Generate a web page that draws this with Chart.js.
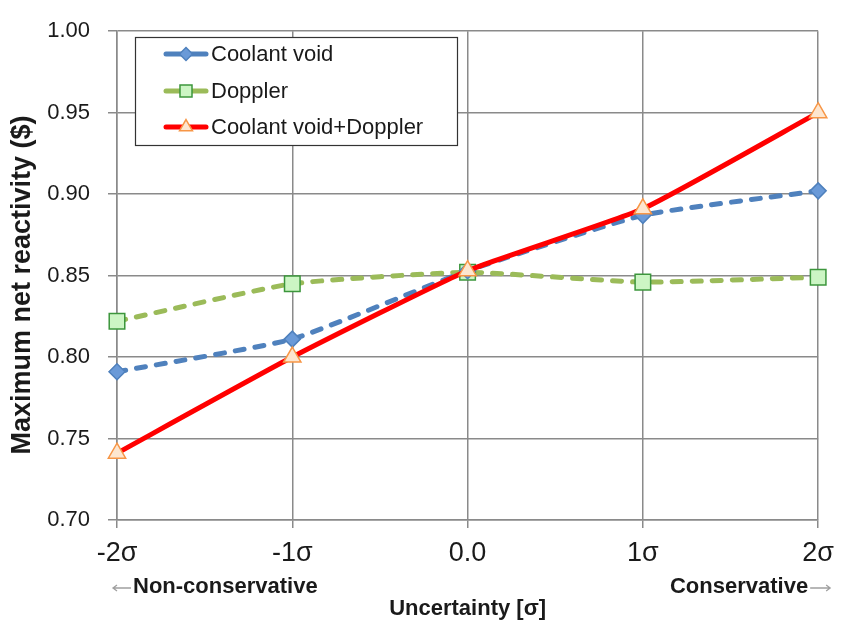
<!DOCTYPE html>
<html>
<head>
<meta charset="utf-8">
<script src="https://cdn.jsdelivr.net/npm/chart.js@4.4.1/dist/chart.umd.min.js"></script>
<style>
  html, body { margin: 0; padding: 0; background: #ffffff; }
  #wrap { width: 843px; height: 630px; position: relative; }
</style>
</head>
<body>
<div id="wrap"><canvas id="c" width="843" height="630"></canvas></div>
<script>
// Uncertainty levels on the x axis
const categories = ['-2σ', '-1σ', '0.0', '1σ', '2σ'];

// Maximum net reactivity ($) for each perturbed feedback
const coolantVoid = [0.791, 0.811, 0.853, 0.887, 0.902];
const doppler = [0.822, 0.845, 0.852, 0.846, 0.849];
const coolantVoidDoppler = [0.741, 0.800, 0.853, 0.891, 0.950];

const seriesNames = ['Coolant void', 'Doppler', 'Coolant void+Doppler'];

// y axis range and tick step
const yMin = 0.70, yMax = 1.00, yStep = 0.05;

const FONT = '"Liberation Sans", Arial, Helvetica, sans-serif';
const GRID = '#8a8a8a';
const INK = '#1a1a1a';

const styles = [
  { line: '#4f81bd', fill: '#6a9ad8', edge: '#4f81bd', point: 'rectRot', radius: 8, dash: [9, 11] },
  { line: '#9bbb59', fill: '#ccf5c4', edge: '#3c963c', point: 'rect', radius: 11, dash: [9, 11] },
  { line: '#ff0000', fill: '#fde6cf', edge: '#f79646', point: 'triangle', radius: 10, dash: [] }
];

function makeSet(label, data, s, order) {
  return {
    label: label,
    data: data,
    order: order,
    borderColor: s.line,
    borderWidth: 5,
    borderDash: s.dash,
    borderCapStyle: s.dash.length ? 'round' : 'butt',
    borderJoinStyle: 'round',
    tension: 0.15,
    pointStyle: s.point,
    pointRadius: s.radius,
    pointHoverRadius: s.radius,
    pointBackgroundColor: s.fill,
    pointBorderColor: s.edge,
    pointBorderWidth: 1.5,
    fill: false
  };
}

// Boxed legend drawn in the upper-left of the plot
const boxLegend = {
  id: 'boxLegend',
  afterDatasetsDraw(chart) {
    const ctx = chart.ctx;
    const x0 = 135, y0 = 37, w = 322, h = 108;
    ctx.save();
    ctx.fillStyle = '#ffffff';
    ctx.fillRect(x0, y0, w, h);
    ctx.strokeStyle = '#333333';
    ctx.lineWidth = 1.2;
    ctx.strokeRect(x0 + 0.5, y0 + 0.5, w, h);
    const rows = [54, 91, 127];
    const legendRadius = [6.5, 8.5, 7.5];
    chart.data.datasets.forEach((ds, i) => {
      const y = rows[i];
      const s = styles[i];
      ctx.beginPath();
      ctx.setLineDash([]);
      ctx.lineCap = 'round';
      ctx.strokeStyle = s.line;
      ctx.lineWidth = 5;
      ctx.moveTo(166, y);
      ctx.lineTo(206, y);
      ctx.stroke();
      ctx.fillStyle = s.fill;
      ctx.strokeStyle = s.edge;
      ctx.lineWidth = 1.5;
      Chart.helpers.drawPoint(ctx, {
        pointStyle: s.point, radius: legendRadius[i], rotation: 0, borderWidth: 1.5
      }, 186, y);
      ctx.fillStyle = INK;
      ctx.font = '22px ' + FONT;
      ctx.textBaseline = 'middle';
      ctx.textAlign = 'left';
      ctx.fillText(ds.label, 211, y + 1);
    });
    ctx.restore();
  }
};

// Small grey arrow used beside the direction notes
function arrow(ctx, x1, x2, y) {
  const dir = Math.sign(x2 - x1);
  ctx.beginPath();
  ctx.moveTo(x1, y);
  ctx.lineTo(x2, y);
  ctx.moveTo(x2 - dir * 4, y - 3);
  ctx.lineTo(x2, y);
  ctx.lineTo(x2 - dir * 4, y + 3);
  ctx.stroke();
}

// Direction notes under the x axis and the rotated y-axis title
const axisNotes = {
  id: 'axisNotes',
  afterDraw(chart) {
    const ctx = chart.ctx;
    const xs = chart.scales.x;
    const left = xs.getPixelForValue(0);
    const right = xs.getPixelForValue(categories.length - 1);
    const y = 587;
    ctx.save();
    ctx.textBaseline = 'middle';
    ctx.font = 'bold 22px ' + FONT;
    ctx.fillStyle = INK;
    ctx.textAlign = 'left';
    ctx.fillText('Non-conservative', left + 16, y);
    ctx.textAlign = 'right';
    ctx.fillText('Conservative', right - 10, y);
    ctx.strokeStyle = '#a0a0a0';
    ctx.lineWidth = 1.3;
    arrow(ctx, left + 14, left - 4, y + 1);
    arrow(ctx, right - 8, right + 12, y + 1);

    ctx.translate(23, 285);
    ctx.rotate(-Math.PI / 2);
    ctx.font = 'bold 27px ' + FONT;
    ctx.textAlign = 'center';
    ctx.textBaseline = 'middle';
    ctx.fillText('Maximum net reactivity ($)', 0, 0);
    ctx.restore();
  }
};

new Chart(document.getElementById('c'), {
  type: 'line',
  data: {
    labels: categories,
    datasets: [
      makeSet(seriesNames[0], coolantVoid, styles[0], 1),
      makeSet(seriesNames[1], doppler, styles[1], 2),
      makeSet(seriesNames[2], coolantVoidDoppler, styles[2], 0)
    ]
  },
  options: {
    responsive: false,
    animation: false,
    devicePixelRatio: 1,
    layout: { padding: { top: 18, right: 23, left: 0, bottom: 0 } },
    plugins: {
      legend: { display: false },
      tooltip: { enabled: false }
    },
    scales: {
      x: {
        type: 'category',
        offset: false,
        afterFit(scale) { scale.height = 110; },
        grid: { color: GRID, lineWidth: 1.5, tickLength: 8, drawTicks: true },
        border: { color: GRID, width: 1.5 },
        ticks: {
          color: INK, padding: 9, maxRotation: 0, autoSkip: false,
          font: { family: FONT, size: 27 }
        },
        title: {
          display: true, text: 'Uncertainty [σ]', color: INK,
          font: { family: FONT, size: 22, weight: 'bold' },
          padding: { top: 0, bottom: 8 }
        }
      },
      y: {
        min: yMin, max: yMax,
        afterFit(scale) { scale.width = 117; },
        grid: { color: GRID, lineWidth: 1.5, tickLength: 9, drawTicks: true },
        border: { color: GRID, width: 1.5 },
        ticks: {
          stepSize: yStep, color: INK, padding: 18,
          font: { family: FONT, size: 22 },
          callback: v => v.toFixed(2)
        },
        title: { display: false }
      }
    }
  },
  plugins: [boxLegend, axisNotes]
});
</script>
</body>
</html>
